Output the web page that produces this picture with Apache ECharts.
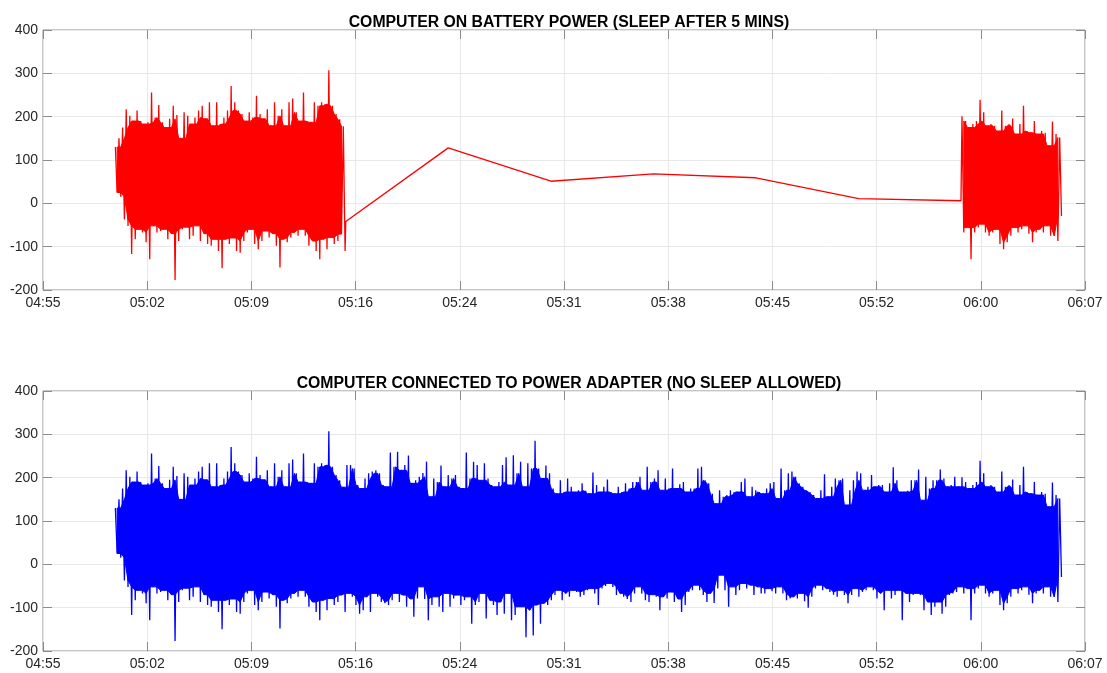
<!DOCTYPE html>
<html>
<head>
<meta charset="utf-8">
<script src="https://cdn.jsdelivr.net/npm/echarts@6/dist/echarts.min.js"></script>
<style>
  html, body { margin: 0; padding: 0; background: #fff; }
  #chart { width: 1107px; height: 673px; }
</style>
</head>
<body>
<div id="chart"></div>
<script>
// x axis is minutes after 04:55, one tick every 7.2 min
const tickLabels = ['04:55', '05:02', '05:09', '05:16', '05:24', '05:31', '05:38', '05:45', '05:52', '06:00', '06:07'];
const yTicks = [-200, -100, 0, 100, 200, 300, 400];

// samples start at 05:00, one every 15 s; each holds the local peak and trough
const startMin = 5;
const stepMin = 0.25;
const upperEnv = [
  130,150,175,217,202,190,214,190,183,187,256,198,227,187,175,195,225,204,150,210,
  202,183,198,214,225,195,233,179,233,183,198,214,271,233,214,206,190,210,198,248,
  206,195,217,179,233,202,217,179,233,242,210,190,
  256,190,187,233,225,233,229,307,225,206,194,178,229,229,221,183,175,198,210,214,
  217,210,183,179,258,225,260,217,229,251,187,194,202,211,237,156,198,190,228,179,
  206,198,206,179,175,258,198,237,229,194,233,198,
  183,179,190,229,247,183,252,210,237,179,233,221,285,221,198,228,210,175,163,194,
  167,198,179,167,171,187,170,163,212,183,167,179,196,167,163,179,167,187,175,190,
  190,202,171,225,190,198,217,171,198,175,221,175,185,
  190,167,175,175,221,225,194,187,163,140,171,156,160,171,167,167,190,198,156,179,
  171,167,163,175,187,190,152,221,171,210,214,202,187,179,171,167,160,152,171,208,
  156,179,198,194,198,137,171,194,214,210,171,179,
  206,179,183,183,167,187,224,194,167,167,170,194,194,219,148,202,175,194,194,219,
  198,179,183,202,179,201,190,175,183,190,239,210,179,183,179,167,214,179,183,196,
  160,183,225,167,163,190,160,167,163,133,189,160,152
];
const lowerEnv = [
  25,15,-37,-52,-117,-83,-60,-67,-90,-129,-52,-67,-64,-60,-83,-70,-177,-87,-60,-55,
  -83,-75,-52,-87,-70,-94,-98,-83,-110,-150,-83,-94,-80,-110,-114,-87,-67,-60,-94,-106,
  -87,-64,-79,-70,-98,-148,-83,-90,-79,-67,-75,-60,
  -75,-98,-87,-110,-129,-83,-106,-79,-94,-87,-71,-110,-67,-75,-94,-114,-106,-75,-110,-67,
  -75,-87,-90,-94,-83,-67,-87,-71,-98,-80,-121,-79,-52,-80,-129,-94,-75,-98,-110,-67,
  -98,-79,-71,-94,-83,-75,-137,-94,-87,-67,-125,-83,
  -94,-117,-87,-114,-67,-129,-117,-98,-98,-168,-106,-164,-94,-137,-90,-94,-83,-71,-60,-83,
  -67,-75,-60,-64,-75,-71,-60,-56,-67,-94,-56,-50,-44,-52,-71,-67,-75,-80,-87,-67,
  -52,-67,-83,-87,-70,-75,-106,-75,-79,-64,-87,-80,-110,
  -94,-64,-60,-48,-60,-71,-87,-67,-89,-56,-25,-60,-98,-52,-71,-60,-44,-56,-48,-71,
  -52,-67,-67,-56,-62,-67,-52,-67,-83,-79,-75,-79,-67,-85,-100,-75,-56,-48,-60,-56,
  -64,-70,-75,-60,-71,-90,-71,-56,-75,-64,-60,-52,
  -60,-79,-67,-106,-60,-79,-71,-60,-129,-67,-87,-71,-67,-71,-106,-87,-117,-98,-87,-114,
  -98,-71,-67,-64,-52,-67,-56,-129,-67,-56,-48,-67,-75,-67,-60,-94,-106,-90,-75,-56,
  -67,-60,-52,-70,-90,-67,-60,-67,-52,-75,-75,-87,-29
];

// battery run: awake until sample 63, asleep (sparse readings), awake again from sample 234
const awakeEndIdx = 63;
const awakeResumeIdx = 234;
const sleepTimes = [20.92, 28.0, 35.1, 42.18, 49.26, 56.36, 63.43];
const sleepValues = [-42, 128, 51, 68, 59, 11, 6];

const titleTop = 'COMPUTER ON BATTERY POWER (SLEEP AFTER 5 MINS)';
const titleBottom = 'COMPUTER CONNECTED TO POWER ADAPTER (NO SLEEP ALLOWED)';

const lastIdx = upperEnv.length - 1;
const coreSpan = 1;

// peak / trough pairs joined into one trace
function zigzag(from, to) {
  const pts = [];
  for (let i = from; i <= to; i++) {
    const t = startMin + i * stepMin;
    pts.push([t, upperEnv[i]], [t + stepMin / 2, lowerEnv[i]]);
  }
  return pts;
}

// dense middle of the trace (lowest nearby peak to highest nearby trough), solid in the original
function coreBand(from, to) {
  const top = [], bottom = [];
  for (let i = from; i < to; i++) {
    const a = Math.max(from, i - coreSpan), b = Math.min(to, i + coreSpan);
    const t = startMin + i * stepMin + stepMin / 2;
    top.push([t, Math.min(...upperEnv.slice(a, b + 1))]);
    bottom.push([t, Math.max(...lowerEnv.slice(a, b + 1))]);
  }
  return top.concat(bottom.reverse());
}

const adapterPts = zigzag(0, lastIdx);
const batteryPts = zigzag(0, awakeEndIdx)
  .concat(sleepTimes.map((t, k) => [t, sleepValues[k]]))
  .concat(zigzag(awakeResumeIdx, lastIdx));

const adapterBands = [coreBand(0, lastIdx)];
const batteryBands = [coreBand(0, awakeEndIdx), coreBand(awakeResumeIdx, lastIdx)];

const font = "'Liberation Sans', Arial, sans-serif";
const labelColor = '#262626';
const boxColor = '#8c8c8c';
const gridColor = '#e8e8e8';

// main axes (labels + grid) and mirrored axes (ticks only), like a boxed MATLAB plot
const makeX = (gridIndex, mirror) => ({
  type: 'value',
  gridIndex,
  position: mirror ? 'top' : 'bottom',
  min: 0,
  max: 72,
  interval: 7.2,
  axisLine: { show: false, onZero: false },
  axisTick: { show: true, inside: true, length: 9, lineStyle: { color: boxColor } },
  axisLabel: {
    show: !mirror, color: labelColor, fontSize: 14, fontFamily: font, margin: 6,
    formatter: v => tickLabels[Math.round(v / 7.2)] || ''
  },
  splitLine: { show: !mirror, lineStyle: { color: gridColor, width: 1 } }
});

const makeY = (gridIndex, mirror) => ({
  type: 'value',
  gridIndex,
  position: mirror ? 'right' : 'left',
  min: yTicks[0],
  max: yTicks[yTicks.length - 1],
  interval: 100,
  axisLine: { show: false, onZero: false },
  axisTick: { show: true, inside: true, length: 9, lineStyle: { color: boxColor } },
  axisLabel: { show: !mirror, color: labelColor, fontSize: 14, fontFamily: font, margin: 5 },
  splitLine: { show: !mirror, lineStyle: { color: gridColor, width: 1 } }
});

const bandSeries = (gridIndex, bands, color) => ({
  type: 'custom',
  xAxisIndex: gridIndex,
  yAxisIndex: gridIndex,
  silent: true,
  clip: true,
  data: [[0, 0]],
  renderItem: (params, api) => ({
    type: 'group',
    children: bands.map(b => ({
      type: 'polygon',
      shape: { points: b.map(p => api.coord(p)) },
      style: { fill: color, stroke: color, lineWidth: 1 }
    }))
  })
});

const traceSeries = (gridIndex, data, color) => ({
  type: 'line',
  xAxisIndex: gridIndex,
  yAxisIndex: gridIndex,
  data,
  showSymbol: false,
  symbol: 'none',
  lineStyle: { color, width: 1.3 }
});

const titleStyle = { fontSize: 15.8, fontWeight: 'bold', color: '#000', fontFamily: font };

const chart = echarts.init(document.getElementById('chart'), null, { renderer: 'canvas' });
chart.setOption({
  animation: false,
  backgroundColor: '#fff',
  title: [
    { text: titleTop, left: 564, textAlign: 'center', top: 10, textStyle: titleStyle },
    { text: titleBottom, left: 564, textAlign: 'center', top: 371, textStyle: titleStyle }
  ],
  grid: [
    { left: 43, right: 22, top: 30, bottom: 383, show: true, borderColor: boxColor, borderWidth: 1 },
    { left: 43, right: 22, top: 391, bottom: 22, show: true, borderColor: boxColor, borderWidth: 1 }
  ],
  xAxis: [makeX(0, false), makeX(1, false), makeX(0, true), makeX(1, true)],
  yAxis: [makeY(0, false), makeY(1, false), makeY(0, true), makeY(1, true)],
  series: [
    bandSeries(0, batteryBands, '#ff0000'),
    traceSeries(0, batteryPts, '#ff0000'),
    bandSeries(1, adapterBands, '#0000ff'),
    traceSeries(1, adapterPts, '#0000ff')
  ]
});
</script>
</body>
</html>
